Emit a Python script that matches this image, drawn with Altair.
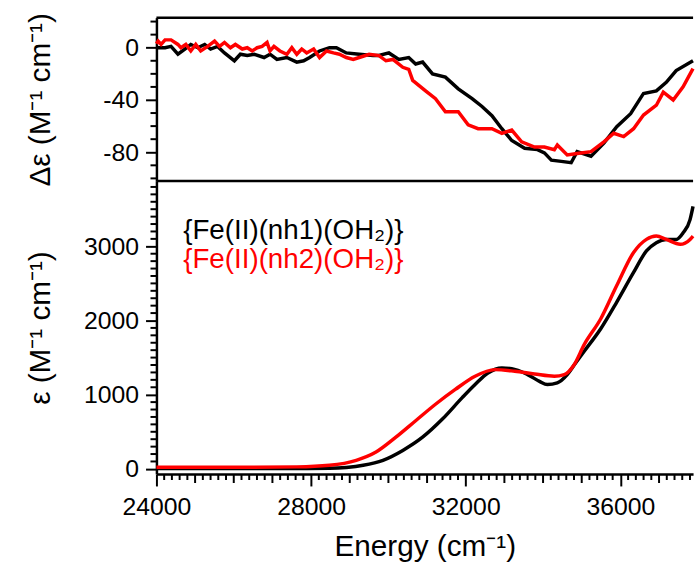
import altair as alt
import pandas as pd

# ---------------- data ----------------
series = ["{Fe(II)(nh1)(OH\u2082)}", "{Fe(II)(nh2)(OH\u2082)}"]
colors = ["#000000", "#ff0000"]

# CD spectra (delta epsilon)
cd_black_E = [24000, 24223, 24377, 24556, 24735, 24889, 25068, 25248, 25401, 25581,
              25760, 26016, 26170, 26349, 26528, 26784, 26938, 27117, 27373, 27630,
              27809, 27963, 28219, 28476, 28655, 28911, 29245, 29603, 29757, 30013,
              30270, 30526, 30705, 30885, 31141, 31474, 31807, 32165, 32421, 32678,
              32934, 33190, 33523, 33856, 34035, 34215, 34471, 34727, 34881, 35240,
              35573, 35906, 36265, 36598, 36931, 37187, 37443, 37878]
cd_black_v = [0, 0, 1, -5, -1, 2.5, 0, 2.5, -1, 1,
              -4, -10, -5, -6, -5, -7.5, -5, -9, -7.5, -11,
              -10, -7.5, -2.5, 0, 0, -4, -5, -6, -6, -4,
              -9, -7.5, -12.5, -11, -20, -22.5, -31.5, -39, -45, -52,
              -62, -71, -77, -78, -80.5, -86, -87, -88, -79.5, -83,
              -73, -60.5, -50.5, -35, -33, -26.5, -17.5, -10]

cd_red_E = [24000, 24044, 24120, 24223, 24377, 24556, 24633, 24761, 24889, 25017,
            25145, 25325, 25504, 25632, 25760, 25914, 26042, 26221, 26349, 26477,
            26605, 26733, 26861, 26938, 27040, 27194, 27373, 27502, 27630, 27758,
            27886, 28066, 28219, 28399, 28578, 28732, 28911, 29091, 29245, 29501,
            29757, 29936, 30116, 30372, 30526, 30628, 30961, 31218, 31474, 31807,
            32063, 32319, 32678, 32934, 33190, 33446, 33779, 34035, 34292, 34369,
            34625, 34881, 35240, 35573, 35829, 36085, 36341, 36598, 36931, 37110,
            37366, 37622, 37878]
cd_red_v = [3, 5, 2.5, 6, 6, 2.5, 0, 2.5, -2.5, 2.5,
            -2.5, 1, 5, 1, 4, 0, 2.5, -1, 0, -2.5,
            0, 1, 4, -2.5, 1, -2.5, -5, 0, -5, -1,
            -4, -1, -7.5, -2.5, -4, -5, -7.5, -9, -7.5, -5,
            -6, -10, -9, -15, -16.5, -25, -33, -39, -49, -49,
            -59, -62, -62, -65.5, -63, -72, -76, -76, -78, -74.5,
            -82, -81, -79.5, -72, -65.5, -68, -62, -51.5, -44, -34,
            -40, -30, -16]

# absorption spectra (epsilon)
abs_black_E = [24000, 26350, 27630, 28476, 28911, 29347, 29859, 30372, 30884, 31397,
               31909, 32242, 32575, 32934, 33190, 33600, 33907, 34112, 34368, 34625,
               34804, 35060, 35496, 35906, 36341, 36674, 36930, 37187, 37443, 37622,
               37802, 37879]
abs_black_v = [5, 5, 5, 8, 20, 49, 116, 249, 427, 671,
               960, 1137, 1293, 1360, 1351, 1271, 1180, 1137, 1160, 1271,
               1400, 1582, 1893, 2249, 2649, 2937, 3049, 3093, 3093, 3182,
               3360, 3538]

abs_red_E = [24000, 26350, 27630, 28476, 29168, 29680, 30193, 30705, 31218, 31730,
             32242, 32754, 33267, 33779, 34292, 34548, 34804, 35060, 35496, 35906,
             36341, 36674, 36930, 37187, 37546, 37802, 37879]
abs_red_v = [22, 22, 27, 49, 116, 227, 427, 649, 871, 1071,
             1249, 1338, 1316, 1280, 1249, 1271, 1404, 1671, 2027, 2471,
             2916, 3093, 3138, 3093, 3027, 3093, 3138]

x_domain = [24000, 37880]
cd_domain = [-102, 23]
abs_domain = [-70, 3880]

x_major = [24000, 28000, 32000, 36000]
x_mid = [v for v in range(24000, 37900, 1000) if v % 4000 != 0]
x_minor = [v for v in range(24000, 37900, 200) if v % 1000 != 0]
cd_major = [-80, -40, 0]
cd_minor = [v for v in range(-100, 21, 10) if v % 40 != 0]
abs_major = [0, 1000, 2000, 3000]
abs_minor = [v for v in range(0, 3801, 100) if v % 1000 != 0]

# ---------------- build tables ----------------
cd_df = pd.concat([
    pd.DataFrame({"E": cd_black_E, "v": cd_black_v, "s": series[0]}),
    pd.DataFrame({"E": cd_red_E, "v": cd_red_v, "s": series[1]}),
])
abs_df = pd.concat([
    pd.DataFrame({"E": abs_black_E, "v": abs_black_v, "s": series[0]}),
    pd.DataFrame({"E": abs_red_E, "v": abs_red_v, "s": series[1]}),
])

FONT = "Liberation Sans"
W = 542
H_TOP = 165
H = 461          # total plot height (two stacked panels)
LAB = 25
TW = 2

color = alt.Color("s:N", scale=alt.Scale(domain=series, range=colors), legend=None)
xs = alt.Scale(domain=x_domain, nice=False, zero=False)


def cds():
    return alt.Scale(domain=cd_domain, range=[H_TOP, 0], nice=False, zero=False)


def abss():
    return alt.Scale(domain=abs_domain, range=[H, H_TOP], nice=False, zero=False)


def y_ticks(values, scale, size):
    return alt.Chart(pd.DataFrame({"t": values})).mark_rule(strokeWidth=TW, color="black").encode(
        y=alt.Y("t:Q", scale=scale, axis=None), x=alt.value(-size), x2=alt.value(0))


def x_ticks(values, size):
    return alt.Chart(pd.DataFrame({"t": values})).mark_rule(strokeWidth=TW, color="black").encode(
        x=alt.X("t:Q", scale=xs, axis=None), y=alt.value(H), y2=alt.value(H + size))


def hline(ypix):
    return alt.Chart(pd.DataFrame({"a": [0]})).mark_rule(strokeWidth=2.5, color="black").encode(
        x=alt.value(0), x2=alt.value(W), y=alt.value(ypix))


cd_lines = alt.Chart(cd_df).mark_line(strokeWidth=3.5).encode(
    x=alt.X("E:Q", scale=xs, axis=None),
    y=alt.Y("v:Q", scale=cds(),
            axis=alt.Axis(values=cd_major, tickSize=11, orient="left",
                          title="\u0394\u03b5 (M\u207b\u00b9 cm\u207b\u00b9)",
                          titleX=-108, titleBaseline="alphabetic",
                          labelPadding=7, grid=False,
                          labelExpr="'' + datum.value")),
    color=color, detail="s:N")

abs_lines = alt.Chart(abs_df).mark_line(strokeWidth=3.5, interpolate="monotone").encode(
    x=alt.X("E:Q", scale=xs,
            axis=alt.Axis(values=x_major, tickSize=12, orient="bottom",
                          title="Energy (cm\u207b\u00b9)",
                          titleBaseline="alphabetic", titleY=82,
                          labelPadding=9, labelFlush=False, grid=False,
                          labelExpr="'' + datum.value")),
    y=alt.Y("v:Q", scale=abss(),
            axis=alt.Axis(values=abs_major, tickSize=11, orient="left",
                          title="\u03b5 (M\u207b\u00b9 cm\u207b\u00b9)",
                          titleX=-108, titleBaseline="alphabetic",
                          labelPadding=7, grid=False,
                          labelExpr="'' + datum.value")),
    color=color, detail="s:N")

leg1 = alt.Chart(pd.DataFrame({"a": [0]})).mark_text(
    text=series[0], color=colors[0], font=FONT, fontSize=28, align="left", baseline="alphabetic"
).encode(x=alt.value(27), y=alt.value(H_TOP + 59))
leg2 = alt.Chart(pd.DataFrame({"a": [0]})).mark_text(
    text=series[1], color=colors[1], font=FONT, fontSize=28, align="left", baseline="alphabetic"
).encode(x=alt.value(27), y=alt.value(H_TOP + 88))

chart = alt.layer(
    cd_lines,
    abs_lines,
    y_ticks(cd_minor, cds(), 6),
    y_ticks(abs_minor, abss(), 6),
    x_ticks(x_minor, 6),
    x_ticks(x_mid, 9),
    hline(0),
    hline(H_TOP),
    leg1, leg2,
).resolve_scale(y="independent").resolve_axis(x="independent", y="independent").properties(
    width=W, height=H,
    padding={"left": 26, "top": 9, "right": 0, "bottom": 0},
).configure_view(stroke=None).configure_axis(
    labelFont=FONT, titleFont=FONT, labelFontSize=LAB, titleFontSize=30,
    labelColor="black", titleColor="black", titleFontWeight="normal",
    domainColor="black", domainWidth=2.5, tickColor="black", tickWidth=TW,
)

chart.save("out.html", embed_options={"renderer": "svg", "actions": False})
